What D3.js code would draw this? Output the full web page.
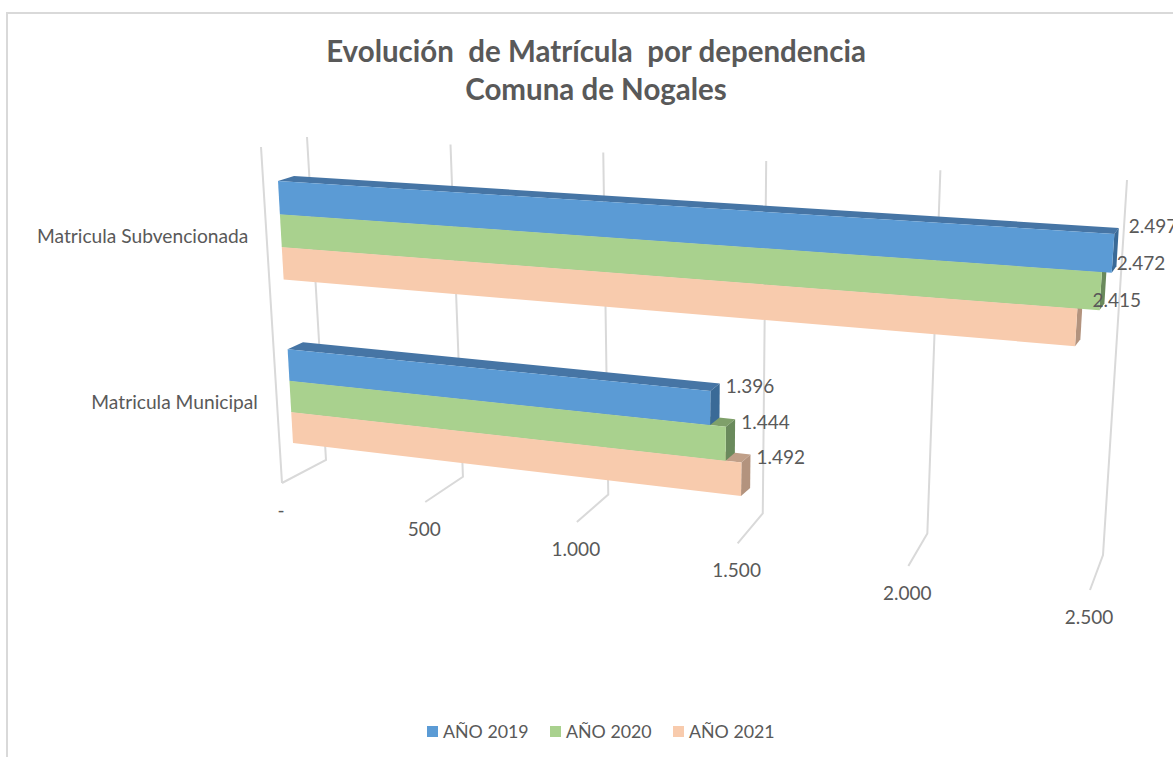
<!DOCTYPE html>
<html>
<head>
<meta charset="utf-8">
<script src="https://cdn.jsdelivr.net/npm/d3@7"></script>
<style>
html,body{margin:0;padding:0;background:#fff;overflow:hidden}
svg{display:block}
text{font-family:Lato,"Open Sans",sans-serif}
</style>
</head>
<body>
<script>
const categories = ["Matricula Subvencionada", "Matricula Municipal"];
const seriesNames = ["AÑO 2019", "AÑO 2020", "AÑO 2021"];
const values2019 = [2497, 1396];
const values2020 = [2472, 1444];
const values2021 = [2415, 1492];
const tickValues = [0, 500, 1000, 1500, 2000, 2500];
const tickLabels = ["-", "500", "1.000", "1.500", "2.000", "2.500"];
const titleLines = ["Evolución  de Matrícula  por dependencia", "Comuna de Nogales"];

const W = 1173, H = 757;
const seriesValues = [values2019, values2020, values2021];
const faceColors = ["#5B9BD5", "#A9D18E", "#F8CBAD"];
const topColors = ["#4675A5", "#7FA06A", "#C09F88"];
const sideColors = ["#3A6A97", "#6A8A5C", "#B3937E"];
const textColor = "#595959", gridColor = "#D9D9D9";

// perspective projection from unit square to a quad (0,0),(1,0),(1,1),(0,1)
function homography(q) {
  const [[x0,y0],[x1,y1],[x2,y2],[x3,y3]] = q;
  const dx1=x1-x2, dx2=x3-x2, sx=x0-x1+x2-x3;
  const dy1=y1-y2, dy2=y3-y2, sy=y0-y1+y2-y3;
  const den=dx1*dy2-dx2*dy1;
  const g=(sx*dy2-dx2*sy)/den, h=(dx1*sy-sx*dy1)/den;
  const a=x1-x0+g*x1, b=x3-x0+h*x3, d=y1-y0+g*y1, e=y3-y0+h*y3;
  return (u,v)=>{const k=g*u+h*v+1;return [(a*u+b*v+x0)/k,(d*u+e*v+y0)/k];};
}
const frontPlane = homography([[278,181],[1115.5,234],[1095,538],[293,443]]);
const backPlane  = homography([[294,176],[1120,228],[1101,530],[308,435]]);
const wallPlane  = homography([[307,137],[1127,180],[1103,555],[326,460]]);
// front edge of the floor, with the same foreshortening as the wall
const floorEdge  = homography([[282,483],[1090,590],[1090,706],[282,583]]);

const x = d3.scaleLinear().domain([0,2500]).range([0,1]);
const yGroup = d3.scaleBand().domain(categories).range([0,1]).paddingInner(0.42).paddingOuter(0);
const ySeries = d3.scaleBand().domain(seriesNames).range([0,yGroup.bandwidth()]);

const svg = d3.select("body").append("svg").attr("width",W).attr("height",H);
const line = d3.line();

// chart frame
svg.append("path").attr("d",line([[7,H],[7,13],[W,13]])).attr("fill","none")
  .attr("stroke",gridColor).attr("stroke-width",2);

// title
svg.append("g").selectAll("text").data(titleLines).join("text")
  .attr("x",596).attr("y",(d,i)=>62+i*38).attr("text-anchor","middle")
  .attr("font-size",29.5).attr("font-weight",700).attr("fill",textColor)
  .style("white-space","pre").text(d=>d);

// grid: wall + floor
const grid = svg.append("g").attr("fill","none").attr("stroke",gridColor).attr("stroke-width",2);
tickValues.forEach(v=>{
  const t=x(v);
  grid.append("path").attr("d",line([wallPlane(t,0),wallPlane(t,1),floorEdge(t,0)]));
});
grid.append("path").attr("d",line([[261,147],floorEdge(x(0),0)]));

// tick labels
svg.append("g").selectAll("text").data(tickValues).join("text")
  .attr("x",v=>floorEdge(x(v),0)[0]-1).attr("y",v=>floorEdge(x(v),0)[1]+27)
  .attr("dy","0.35em").attr("text-anchor","middle").attr("font-size",19).attr("fill",textColor)
  .text((v,i)=>tickLabels[i]);

// bars, lowest series first
const bars = svg.append("g");
categories.forEach((cat,ci)=>{
  for(let si=seriesNames.length-1;si>=0;si--){
    const v=seriesValues[si][ci];
    const t=x(v), w0=yGroup(cat)+ySeries(seriesNames[si]), w1=w0+ySeries.bandwidth();
    const g=bars.append("g");
    g.append("path").attr("fill",topColors[si])
      .attr("d",line([frontPlane(0,w0),frontPlane(t,w0),backPlane(t,w0),backPlane(0,w0)])+"Z");
    g.append("path").attr("fill",sideColors[si])
      .attr("d",line([frontPlane(t,w0),backPlane(t,w0),backPlane(t,w1),frontPlane(t,w1)])+"Z");
    g.append("path").attr("fill",faceColors[si])
      .attr("d",line([frontPlane(0,w0),frontPlane(t,w0),frontPlane(t,w1),frontPlane(0,w1)])+"Z");
  }
});

// data labels
const labelShift = [[10,-2],[6,3]];
categories.forEach((cat,ci)=>{
  seriesNames.forEach((s,si)=>{
    const v=seriesValues[si][ci];
    const p=backPlane(x(v),yGroup(cat)+ySeries(s));
    svg.append("text").attr("x",p[0]+labelShift[ci][0]).attr("y",p[1]+labelShift[ci][1]).attr("dy","0.35em")
      .attr("font-size",19).attr("fill",textColor)
      .text(d3.format(".3f")(v/1000));
  });
});

// category labels
svg.append("g").selectAll("text").data(categories).join("text")
  .attr("x",c=>frontPlane(0,yGroup(c)+yGroup.bandwidth()/2)[0]-32.5)
  .attr("y",c=>frontPlane(0,yGroup(c)+yGroup.bandwidth()/2)[1]+6)
  .attr("dy","0.35em").attr("text-anchor","end").attr("font-size",19.2).attr("fill",textColor)
  .text(c=>c);

// legend
const legendX = d3.scalePoint().domain(seriesNames).range([427,673]);
const lg = svg.append("g").selectAll("g").data(seriesNames).join("g")
  .attr("transform",s=>`translate(${legendX(s)},726)`);
lg.append("rect").attr("width",11).attr("height",11).attr("fill",(s,i)=>faceColors[i]);
lg.append("text").attr("x",16).attr("y",5.5).attr("dy","0.35em")
  .attr("font-size",17.8).attr("fill",textColor).text(s=>s);
</script>
</body>
</html>
